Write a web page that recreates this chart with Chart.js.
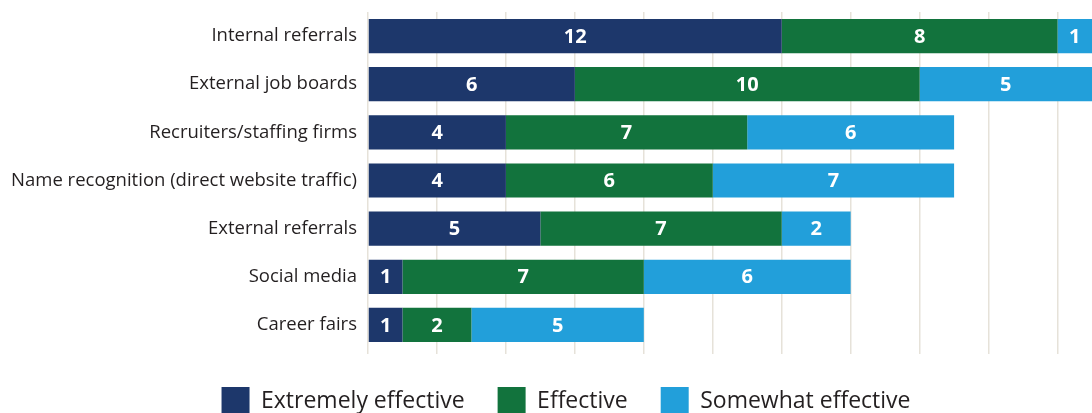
<!DOCTYPE html>
<html>
<head>
<meta charset="utf-8">
<script src="https://cdn.jsdelivr.net/npm/chart.js@4/dist/chart.umd.min.js"></script>
<style>
  html, body { margin: 0; padding: 0; background: #fff; overflow: hidden; }
  #wrap { position: relative; width: 1092px; height: 425px; }
</style>
</head>
<body>
<div id="wrap"><canvas id="kanavat"></canvas></div>
<script>
// Recruiting channels, stacked by how effective respondents rated them
const kanavat = [
  'Internal referrals',
  'External job boards',
  'Recruiters/staffing firms',
  'Name recognition (direct website traffic)',
  'External referrals',
  'Social media',
  'Career fairs'
];
const erittainTehokas = [12, 6, 4, 4, 5, 1, 1];
const tehokas = [8, 10, 7, 6, 7, 7, 2];
const jokseenkinTehokas = [1, 5, 6, 7, 2, 6, 5];
const sarjaNimet = ['Extremely effective', 'Effective', 'Somewhat effective'];

const varit = ['#1d376b', '#12733d', '#229fda'];
const fontti = 'Open Sans';

// white value labels centred in each segment
const arvoTekstit = {
  id: 'arvoTekstit',
  afterDatasetsDraw(chart) {
    const ctx = chart.ctx;
    ctx.save();
    ctx.fillStyle = '#ffffff';
    ctx.font = `bold 20px "${fontti}"`;
    ctx.textAlign = 'center';
    ctx.textBaseline = 'middle';
    chart.data.datasets.forEach((ds, i) => {
      const meta = chart.getDatasetMeta(i);
      meta.data.forEach((bar, j) => {
        const v = ds.data[j];
        if (!v) return;
        const x = (bar.x + bar.base) / 2;
        ctx.fillText(String(v), x, bar.y + 1);
      });
    });
    ctx.restore();
  }
};

// nudge the legend a bit to the right
const selitteenSiirto = {
  id: 'selitteenSiirto',
  afterLayout(chart) {
    const l = chart.legend;
    if (!l) return;
    l.left += 20;
    l.right += 20;
  }
};

new Chart(document.getElementById('kanavat'), {
  type: 'bar',
  data: {
    labels: kanavat,
    datasets: [
      { label: sarjaNimet[0], data: erittainTehokas, backgroundColor: varit[0] },
      { label: sarjaNimet[1], data: tehokas, backgroundColor: varit[1] },
      { label: sarjaNimet[2], data: jokseenkinTehokas, backgroundColor: varit[2] }
    ]
  },
  options: {
    indexAxis: 'y',
    responsive: true,
    maintainAspectRatio: false,
    animation: false,
    layout: { padding: { top: 12, left: 0, right: 0, bottom: 0 } },
    datasets: {
      bar: { barPercentage: 1, categoryPercentage: 0.71, borderWidth: 0 }
    },
    plugins: {
      tooltip: { enabled: false },
      legend: {
        position: 'bottom',
        labels: {
          boxWidth: 28,
          boxHeight: 28,
          padding: 33,
          color: '#231f20',
          font: { family: fontti, size: 23 }
        }
      }
    },
    scales: {
      x: {
        stacked: true,
        min: 0,
        max: 21,
        ticks: { display: false, stepSize: 2, includeBounds: false },
        grid: { color: '#e6e2d9', lineWidth: 1.5, tickLength: 5, drawTicks: true },
        border: { display: false }
      },
      y: {
        stacked: true,
        afterFit: (s) => {
          s.width = 368;
          s.paddingTop = 0;
          s.paddingBottom = 0;
        },
        grid: { display: false, drawTicks: false },
        border: { display: false },
        ticks: {
          padding: 11,
          color: '#231f20',
          font: { family: fontti, size: 18.5 }
        }
      }
    }
  },
  plugins: [arvoTekstit, selitteenSiirto]
});
</script>
</body>
</html>
